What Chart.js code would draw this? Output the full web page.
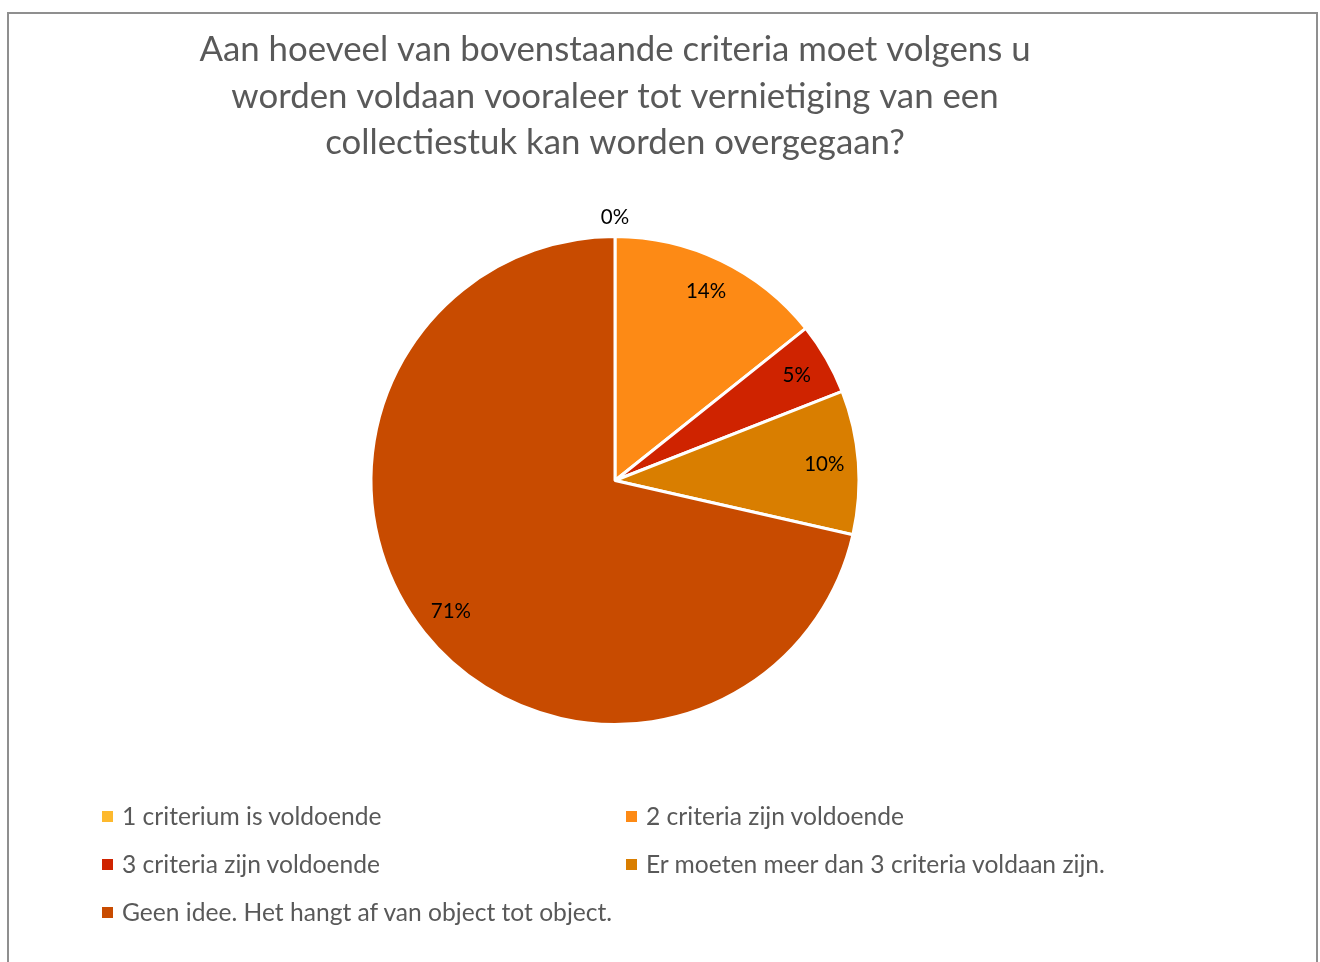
<!DOCTYPE html>
<html>
<head>
<meta charset="utf-8">
<script src="https://cdn.jsdelivr.net/npm/chart.js@4/dist/chart.umd.min.js"></script>
<style>
  html,body{margin:0;padding:0;background:#fff;width:1320px;height:962px;overflow:hidden;}
  #frame{position:absolute;left:7px;top:12px;width:1311px;height:960px;border:2px solid #8f8f8f;border-bottom:none;box-sizing:border-box;}
  #wrap{position:absolute;left:0;top:0;width:1320px;height:962px;}
  #legend{position:absolute;left:0;top:0;width:1320px;height:962px;pointer-events:none;font-family:Lato,"Open Sans",sans-serif;font-size:24.6px;color:#595959;}
  .item{position:absolute;white-space:nowrap;line-height:28px;}
  .sw{display:inline-block;width:11px;height:11px;margin-right:9px;vertical-align:middle;position:relative;top:-2px;}
</style>
</head>
<body>
<div id="frame"></div>
<div id="wrap"><canvas id="c"></canvas></div>
<div id="legend"></div>
<script>
const titleLines = [
  "Aan hoeveel van bovenstaande criteria moet volgens u",
  "worden voldaan vooraleer tot vernietiging van een",
  "collectiestuk kan worden overgegaan?"
];
const categories = [
  "1 criterium is voldoende",
  "2 criteria zijn voldoende",
  "3 criteria zijn voldoende",
  "Er moeten meer dan 3 criteria voldaan zijn.",
  "Geen idee. Het hangt af van object tot object."
];
const responses = [0, 3, 1, 2, 15];
const colors = ["#FDB92E", "#FD8A15", "#CF2300", "#D97E00", "#C84B00"];

const total = responses.reduce((a, b) => a + b, 0);

const labelPlugin = {
  id: 'pctLabels',
  afterDatasetsDraw(chart) {
    const ctx = chart.ctx;
    const meta = chart.getDatasetMeta(0);
    ctx.save();
    ctx.font = '20.5px Lato, "Open Sans", sans-serif';
    ctx.fillStyle = '#000';
    ctx.textAlign = 'center';
    ctx.textBaseline = 'middle';
    meta.data.forEach((arc, i) => {
      const p = arc.getProps(['x','y','startAngle','endAngle','outerRadius'], true);
      const mid = (p.startAngle + p.endAngle) / 2;
      const v = responses[i];
      const f = v === 0 ? 1.08 : 0.86;
      const x = p.x + Math.cos(mid) * p.outerRadius * f;
      const y = p.y + Math.sin(mid) * p.outerRadius * f;
      ctx.fillText(Math.round(v / total * 100) + '%', x, y);
    });
    ctx.restore();
  }
};

new Chart(document.getElementById('c'), {
  type: 'pie',
  data: {
    labels: categories,
    datasets: [{
      data: responses,
      backgroundColor: colors,
      borderColor: '#ffffff',
      borderWidth: 3
    }]
  },
  options: {
    responsive: true,
    maintainAspectRatio: false,
    animation: false,
    layout: { padding: { top: 0, bottom: 236, left: 0, right: 90 } },
    plugins: {
      legend: { display: false },
      tooltip: { enabled: false },
      title: {
        display: true,
        text: titleLines,
        color: '#595959',
        font: { family: 'Lato, "Open Sans", sans-serif', size: 34.8, weight: 'normal', lineHeight: 1.336 },
        padding: { top: 27, bottom: 68.5 }
      }
    }
  },
  plugins: [labelPlugin]
});

const legendPos = [[102, 816], [626, 816], [102, 864], [626, 864], [102, 912]];
const lg = document.getElementById('legend');
categories.forEach((name, i) => {
  const d = document.createElement('div');
  d.className = 'item';
  d.style.left = legendPos[i][0] + 'px';
  d.style.top = (legendPos[i][1] - 14) + 'px';
  const s = document.createElement('span');
  s.className = 'sw';
  s.style.background = colors[i];
  d.appendChild(s);
  d.appendChild(document.createTextNode(name));
  lg.appendChild(d);
});
</script>
</body>
</html>
